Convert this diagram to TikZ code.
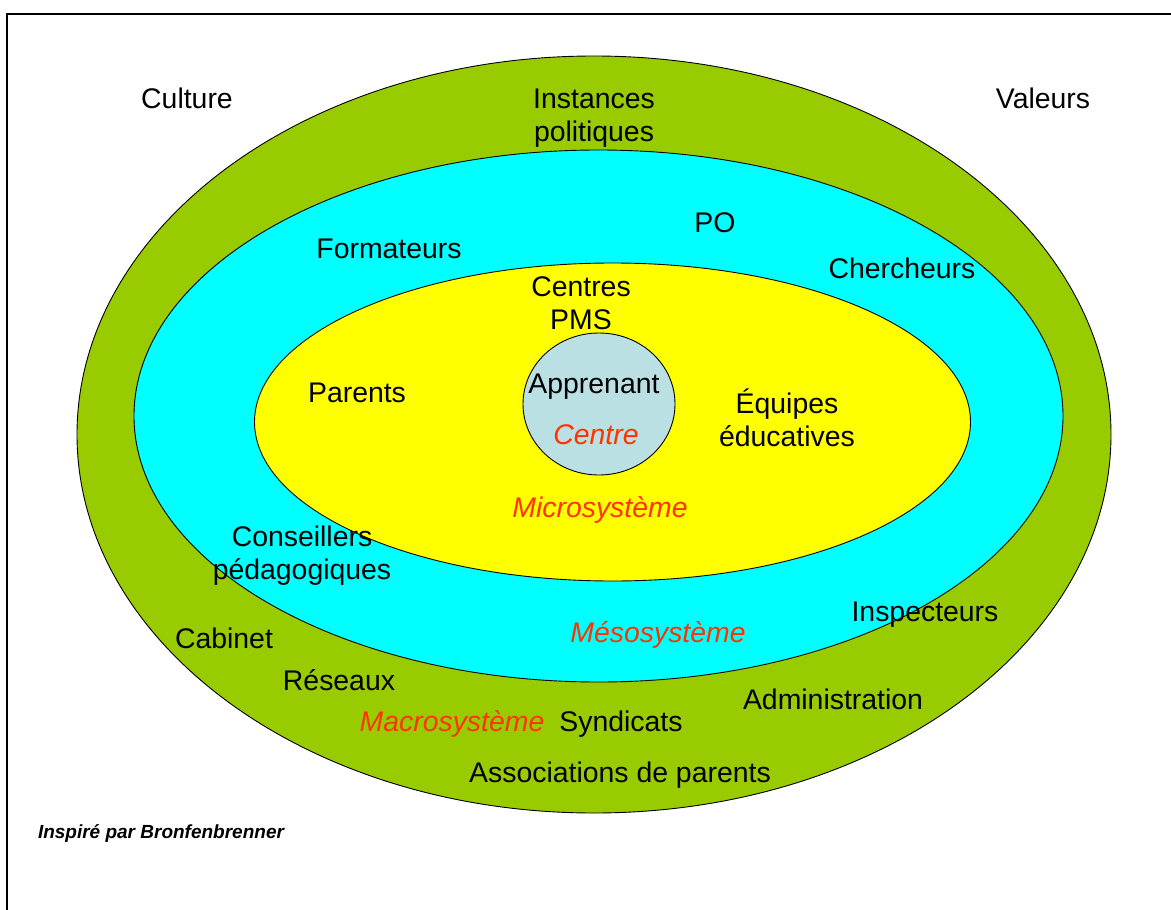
\documentclass[tikz,border=0pt]{standalone}
\usepackage{fontspec}
\setmainfont{Liberation Sans}
\definecolor{macrogreen}{HTML}{99CC00}
\definecolor{mesocyan}{HTML}{00FFFF}
\definecolor{microyellow}{HTML}{FFFF00}
\definecolor{centreblue}{HTML}{BBE0E3}
\definecolor{labelred}{HTML}{FF3300}
\tikzset{
  ring/.style={draw=black,line width=0.9pt},
  lbl/.style={inner sep=0pt,anchor=base,align=center,font=\fontsize{28.4}{32.7}\selectfont},
  redlbl/.style={lbl,text=labelred,font=\fontsize{28.4}{32.7}\selectfont\itshape},
  notelbl/.style={inner sep=0pt,anchor=base,font=\fontsize{19}{22}\selectfont\bfseries\itshape}
}
\begin{document}
\begin{tikzpicture}[x=1pt,y=-1pt]
\useasboundingbox (0,0) rectangle (1171,910);
\fill[white] (0,0) rectangle (1171,910);
\draw[line width=1.8pt] (7,912) -- (7,14) -- (1173,14);
% systems
\draw[ring,fill=macrogreen] (594,434.5) ellipse [x radius=517pt,y radius=378.5pt];
\draw[ring,fill=mesocyan] (598.5,416) ellipse [x radius=464.5pt,y radius=266pt];
\draw[ring,fill=microyellow] (612.5,422) ellipse [x radius=358pt,y radius=159pt];
\draw[ring,fill=centreblue] (599,404) ellipse [x radius=76pt,y radius=71pt];
% labels (multi-line nodes: base = last line)
\node[lbl] (culture) at (187,108) {Culture};
\node[lbl] (instances) at (594,141.5) {Instances\\politiques};
\node[lbl] (valeurs) at (1043,108) {Valeurs};
\node[lbl] (po) at (715,232) {PO};
\node[lbl] (formateurs) at (389,258) {Formateurs};
\node[lbl] (chercheurs) at (902,278) {Chercheurs};
\node[lbl] (pms) at (581,329.5) {Centres\\PMS};
\node[lbl] (parents) at (357,402) {Parents};
\node[lbl] (apprenant) at (594,393) {Apprenant};
\node[redlbl] (centre) at (596,444) {Centre};
\node[lbl] (equipes) at (787,446) {Équipes\\éducatives};
\node[redlbl] (micro) at (600,517) {Microsystème};
\node[lbl] (conseillers) at (302,579) {Conseillers\\pédagogiques};
\node[lbl] (inspecteurs) at (925,621) {Inspecteurs};
\node[redlbl] (meso) at (658,642) {Mésosystème};
\node[lbl] (cabinet) at (224,648) {Cabinet};
\node[lbl] (reseaux) at (339,690) {Réseaux};
\node[lbl] (admin) at (833,709) {Administration};
\node[redlbl] (macro) at (452,731) {Macrosystème};
\node[lbl] (syndicats) at (621,731) {Syndicats};
\node[lbl] (assoc) at (620,782) {Associations de parents};
\node[notelbl] (source) at (161,838) {Inspiré par Bronfenbrenner};
\end{tikzpicture}
\end{document}
